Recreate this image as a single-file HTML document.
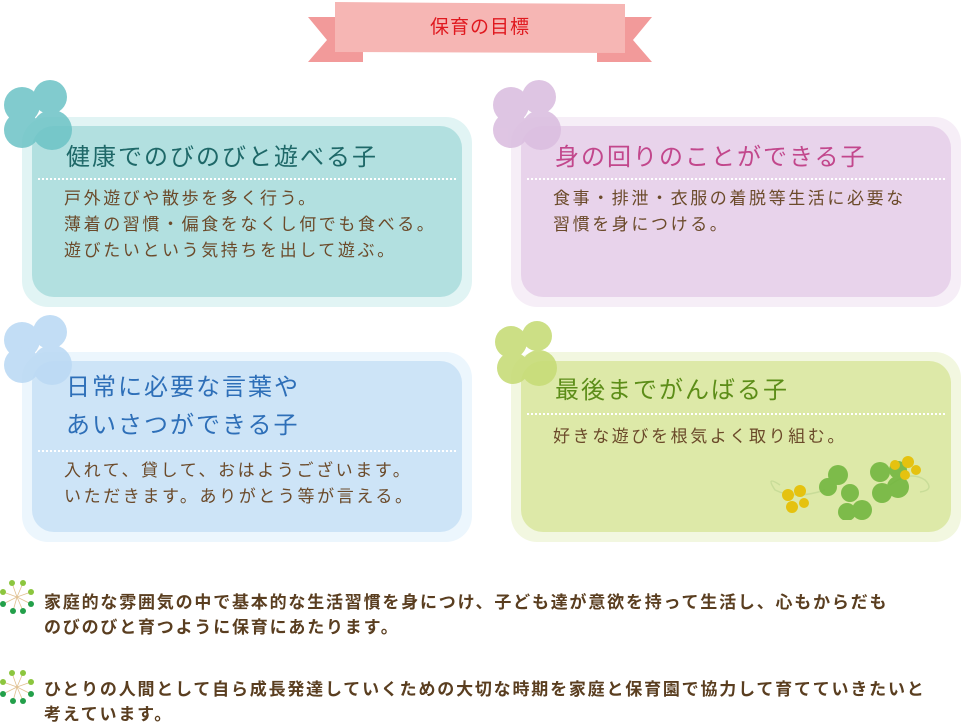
<!DOCTYPE html>
<html><head><meta charset="utf-8"><style>
*{margin:0;padding:0;box-sizing:border-box}
body{width:961px;height:726px;background:#fff;position:relative;overflow:hidden;font-family:"Liberation Sans","Noto Sans CJK JP",sans-serif}
.a{position:absolute}
.outer{position:absolute;border-radius:26px;opacity:.55}
.inner{position:absolute;border-radius:22px}
.t{position:absolute;font-size:24px;letter-spacing:2px;white-space:nowrap;line-height:38px}
.b{position:absolute;font-size:17px;color:#6b4a2a;line-height:26px;white-space:nowrap;letter-spacing:2.6px}
.dot{position:absolute;height:0;border-top:2px dotted #fff}
.ft{position:absolute;left:44px;font-size:17px;font-weight:bold;color:#5a3e20;line-height:25px;white-space:nowrap;letter-spacing:1.8px}
</style></head><body>
<svg class="a" style="left:300px;top:0" width="360" height="70">
<polygon points="8,17 63,17 63,62 8,62 27,40" fill="#f29a9a"/>
<polygon points="352,17 297,17 297,62 352,62 333,40" fill="#f29a9a"/>
<polygon points="35,2 325,4 325,53 35,52" fill="#f6b6b4"/>
</svg>
<div class="a" style="left:335px;top:8px;width:290px;text-align:center;font-size:19px;color:#e0191f;line-height:40px;letter-spacing:1px">保育の目標</div>

<div class="outer" style="left:22px;top:117px;width:450px;height:190px;background:#c9ebeb"></div>
<div class="inner" style="left:32px;top:126px;width:430px;height:171px;background:#b2e0e0"></div>
<svg class="a" style="left:0;top:75px" width="80" height="82"><g fill="#6cc3c6" opacity=".85"><circle cx="22" cy="30" r="18"/><circle cx="50" cy="22" r="17"/><circle cx="22" cy="55" r="18"/><circle cx="52" cy="55" r="20"/></g></svg>
<div class="t" style="left:66px;top:139px;color:#1e6868">健康でのびのびと遊べる子</div>
<div class="dot" style="left:38px;top:178px;width:418px"></div>
<div class="b" style="left:64px;top:186px">戸外遊びや散歩を多く行う。<br>薄着の習慣・偏食をなくし何でも食べる。<br>遊びたいという気持ちを出して遊ぶ。</div>

<div class="outer" style="left:511px;top:117px;width:450px;height:190px;background:#efe0f1"></div>
<div class="inner" style="left:521px;top:126px;width:430px;height:171px;background:#e8d3eb"></div>
<svg class="a" style="left:489px;top:75px" width="80" height="82"><g fill="#dbbfe0" opacity=".9"><circle cx="22" cy="30" r="18"/><circle cx="50" cy="22" r="17"/><circle cx="22" cy="55" r="18"/><circle cx="52" cy="55" r="20"/></g></svg>
<div class="t" style="left:555px;top:139px;color:#c2478c">身の回りのことができる子</div>
<div class="dot" style="left:527px;top:178px;width:418px"></div>
<div class="b" style="left:553px;top:186px">食事・排泄・衣服の着脱等生活に必要な<br>習慣を身につける。</div>

<div class="outer" style="left:22px;top:352px;width:450px;height:190px;background:#ddeefb"></div>
<div class="inner" style="left:32px;top:361px;width:430px;height:171px;background:#cde4f7"></div>
<svg class="a" style="left:0;top:310px" width="80" height="82"><g fill="#bcdaf4" opacity=".9"><circle cx="22" cy="30" r="18"/><circle cx="50" cy="22" r="17"/><circle cx="22" cy="55" r="18"/><circle cx="52" cy="55" r="20"/></g></svg>
<div class="t" style="left:66px;top:369px;color:#2e6fb8">日常に必要な言葉や<br>あいさつができる子</div>
<div class="dot" style="left:38px;top:450px;width:418px"></div>
<div class="b" style="left:64px;top:458px">入れて、貸して、おはようございます。<br>いただきます。ありがとう等が言える。</div>

<div class="outer" style="left:511px;top:352px;width:450px;height:190px;background:#e8f0c6"></div>
<div class="inner" style="left:521px;top:361px;width:430px;height:171px;background:#dde9a8"></div>
<svg class="a" style="left:489px;top:320px" width="80" height="82"><g fill="#c7dc78" opacity=".9"><circle cx="22" cy="22" r="16"/><circle cx="48" cy="16" r="15"/><circle cx="24" cy="48" r="16"/><circle cx="50" cy="48" r="18"/></g></svg>
<div class="t" style="left:555px;top:372px;color:#5c8d18">最後までがんばる子</div>
<div class="dot" style="left:527px;top:413px;width:418px"></div>
<div class="b" style="left:553px;top:424px">好きな遊びを根気よく取り組む。</div>
<svg class="a" style="left:750px;top:455px" width="190" height="65">
<path d="M30,30 q-15,-10 -5,5 q20,10 50,0 M140,30 q20,-15 35,-5 q10,10 -5,12" stroke="#c8dc98" fill="none" stroke-width="1.5"/>
<g fill="#6db43a" opacity=".85"><circle cx="88" cy="20" r="10"/><circle cx="78" cy="32" r="9"/><circle cx="100" cy="38" r="9"/><circle cx="112" cy="55" r="10"/><circle cx="97" cy="57" r="9"/><circle cx="130" cy="17" r="10"/><circle cx="148" cy="15" r="9"/><circle cx="148" cy="32" r="11"/><circle cx="132" cy="38" r="10"/></g>
<g fill="#e5c20f"><circle cx="38" cy="40" r="6"/><circle cx="50" cy="36" r="6"/><circle cx="42" cy="52" r="6"/><circle cx="54" cy="48" r="5"/><circle cx="145" cy="10" r="5"/><circle cx="158" cy="7" r="6"/><circle cx="155" cy="20" r="5"/><circle cx="166" cy="15" r="5"/></g>
</svg>

<svg class="a" style="left:0;top:580px" width="36" height="36"><g stroke="#e0c090" stroke-width=".8"><line x1="17" y1="17" x2="12" y2="3"/><line x1="17" y1="17" x2="23" y2="3"/><line x1="17" y1="17" x2="3" y2="12"/><line x1="17" y1="17" x2="31" y2="12"/><line x1="17" y1="17" x2="3" y2="24"/><line x1="17" y1="17" x2="31" y2="24"/><line x1="17" y1="17" x2="13" y2="31"/><line x1="17" y1="17" x2="23" y2="31"/></g><g fill="#8cc63f"><circle cx="12" cy="3" r="3"/><circle cx="23" cy="3" r="3"/><circle cx="3" cy="12" r="3"/><circle cx="31" cy="12" r="3"/></g><g fill="#23a04a"><circle cx="3" cy="24" r="3"/><circle cx="31" cy="24" r="3"/><circle cx="13" cy="31" r="3"/><circle cx="23" cy="31" r="3"/></g></svg>
<svg class="a" style="left:0;top:670px" width="36" height="36"><g stroke="#e0c090" stroke-width=".8"><line x1="17" y1="17" x2="12" y2="3"/><line x1="17" y1="17" x2="23" y2="3"/><line x1="17" y1="17" x2="3" y2="12"/><line x1="17" y1="17" x2="31" y2="12"/><line x1="17" y1="17" x2="3" y2="24"/><line x1="17" y1="17" x2="31" y2="24"/><line x1="17" y1="17" x2="13" y2="31"/><line x1="17" y1="17" x2="23" y2="31"/></g><g fill="#8cc63f"><circle cx="12" cy="3" r="3"/><circle cx="23" cy="3" r="3"/><circle cx="3" cy="12" r="3"/><circle cx="31" cy="12" r="3"/></g><g fill="#23a04a"><circle cx="3" cy="24" r="3"/><circle cx="31" cy="24" r="3"/><circle cx="13" cy="31" r="3"/><circle cx="23" cy="31" r="3"/></g></svg>
<div class="ft" style="top:590px">家庭的な雰囲気の中で基本的な生活習慣を身につけ、子ども達が意欲を持って生活し、心もからだも<br>のびのびと育つように保育にあたります。</div>
<div class="ft" style="top:677px">ひとりの人間として自ら成長発達していくための大切な時期を家庭と保育園で協力して育てていきたいと<br>考えています。</div>
</body></html>
